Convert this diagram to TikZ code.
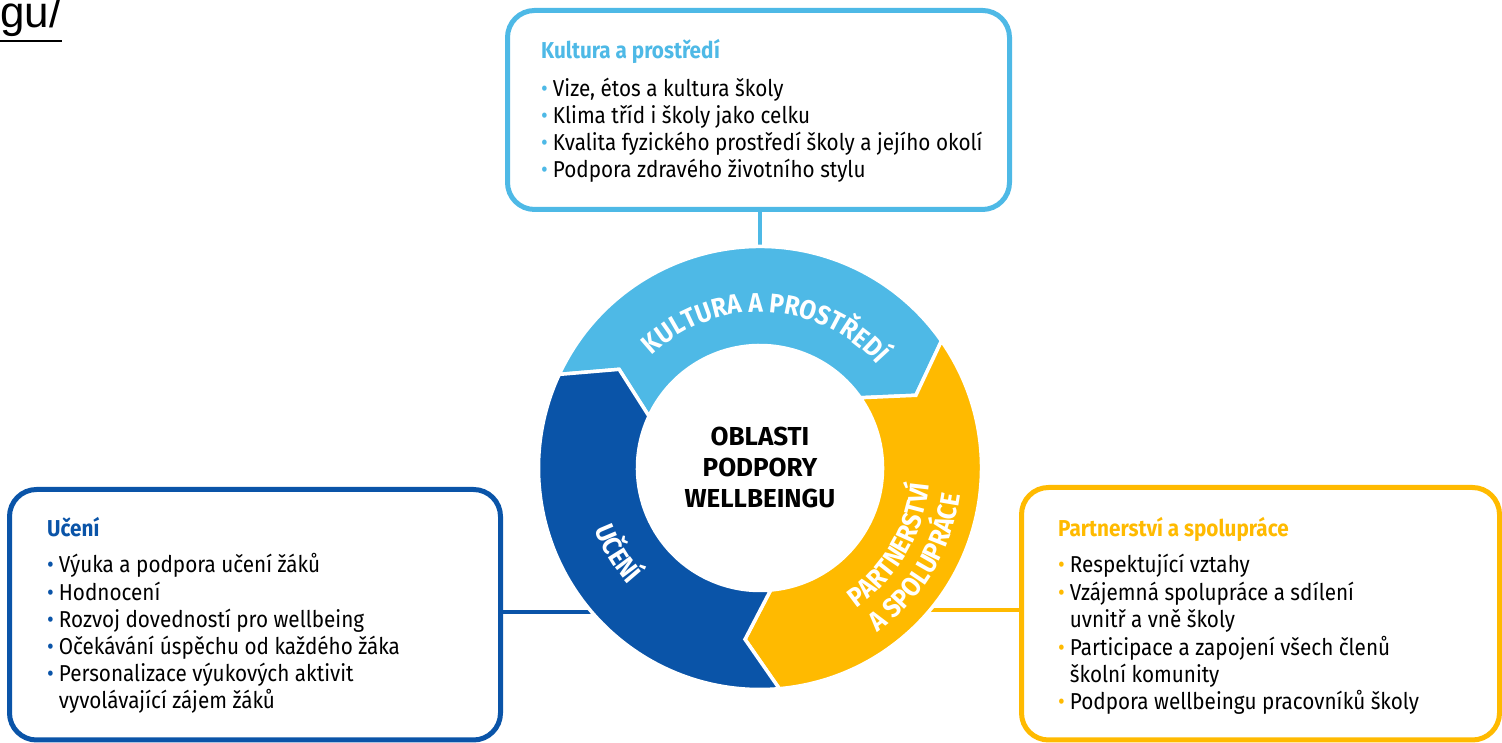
\documentclass[tikz,border=0pt]{standalone}
\usepackage{fontspec}
\usepackage{tikz}
\usetikzlibrary{decorations.text}
\setmainfont{Fira Sans}[FakeStretch=0.9]
\newfontfamily\widefont{Fira Sans}
\newfontfamily\linkfont{Liberation Sans}
\definecolor{kultura}{HTML}{4EB9E6}
\definecolor{uceni}{HTML}{0A54A8}
\definecolor{partner}{HTML}{FFBA00}
% coloured bullet, and the indent of a wrapped line
\newcommand{\bul}[1]{{\color{#1}\textbullet}\hspace{5pt}}
\newcommand{\nob}{\hphantom{\textbullet}\hspace{5pt}}
% one arrow of the ring: colour, angle of its tail
\newcommand{\ringpart}[2]{%
  \fill[#1, draw=white, line width=3.5] (#2:221.5)
    arc[start angle=#2, end angle={#2-120}, radius=221.5]
    -- ({#2-130}:172) -- ({#2-120}:122.5)
    arc[start angle={#2-120}, end angle=#2, radius=122.5]
    -- ({#2-10}:172) -- cycle;}

\begin{document}
\begin{tikzpicture}[x=1pt, y=1pt,
    areabox/.style={draw=#1, line width=5, rounded corners=27, inner sep=0},
    link/.style={draw=#1, line width=4},
    head/.style={text=#1, anchor=base west, inner sep=0,
        font=\fontsize{23}{23}\selectfont\bfseries},
    item/.style={anchor=base west, inner sep=0, font=\fontsize{23}{23}\selectfont},
    ringtext/.style={decorate, decoration={text along path, text align=center,
        text color=white, text={|\fontsize{27}{27}\selectfont\bfseries|#1}}}]
    \useasboundingbox (0,0) rectangle (1502,743);
    \coordinate (hub) at (760,275);
    \node[circle, minimum size=443, inner sep=0] (ring) at (hub) {};
    % tail of the web address above
    \node[font=\linkfont\fontsize{44}{44}\selectfont, anchor=base west, inner sep=0]
        (linktail) at (0,715) {gu/};
    \draw[line width=2.5] ([yshift=-13]linktail.base west) -- ([yshift=-13]linktail.base east);
    % the three boxes
    \node[areabox=kultura, minimum width=502, minimum height=199] (kulturabox) at (758.5,633) {};
    \node[areabox=uceni, minimum width=491, minimum height=250.5] (ucenibox) at (255,128.25) {};
    \node[areabox=partner, minimum width=478, minimum height=252.5] (partnerbox) at (1260.5,129.25) {};
    % links from the boxes to the ring
    \draw[link=kultura] (kulturabox.south -| hub) -- (ring.north);
    \draw[link=uceni] ([yshift=3]ucenibox.east) -- ([yshift=3]ucenibox.east -| hub);
    \draw[link=partner] ([yshift=3.5]partnerbox.west) -- ([yshift=3.5]partnerbox.west -| hub);
    % box texts
    \node[head=kultura] (kulturahead) at (541,684) {Kultura a prostředí};
    \foreach \txt [count=\i] in {{\bul{kultura}Vize, étos a kultura školy},
        {\bul{kultura}Klima tříd i školy jako celku},
        {\bul{kultura}Kvalita fyzického prostředí školy a jejího okolí},
        {\bul{kultura}Podpora zdravého životního stylu}}
        \node[item] (kultura-\i) at (541, {646-26.7*(\i-1)}) {\txt};
    \node[head=uceni] (ucenihead) at (47,206) {Učení};
    \foreach \txt [count=\i] in {{\bul{uceni}Výuka a podpora učení žáků},
        {\bul{uceni}Hodnocení},
        {\bul{uceni}Rozvoj dovedností pro wellbeing},
        {\bul{uceni}Očekávání úspěchu od každého žáka},
        {\bul{uceni}Personalizace výukových aktivit},
        {\nob vyvolávající zájem žáků}}
        \node[item] (uceni-\i) at (47, {170-27.2*(\i-1)}) {\txt};
    \node[head=partner] (partnerhead) at (1058,206) {Partnerství a spolupráce};
    \foreach \txt [count=\i] in {{\bul{partner}Respektující vztahy},
        {\bul{partner}Vzájemná spolupráce a sdílení},
        {\nob uvnitř a vně školy},
        {\bul{partner}Participace a zapojení všech členů},
        {\nob školní komunity},
        {\bul{partner}Podpora wellbeingu pracovníků školy}}
        \node[item] (partner-\i) at (1058, {170-27.4*(\i-1)}) {\txt};
    % the ring of three arrows
    \begin{scope}[shift={(hub)}]
        \ringpart{kultura}{155}
        \ringpart{partner}{35}
        \ringpart{uceni}{-85}
        \path[ringtext={KULTURA A PROSTŘEDÍ}] (150:156) arc[start angle=150, end angle=25, radius=156];
        \path[ringtext={UČENÍ}] (181:176) arc[start angle=181, end angle=241, radius=176];
        \path[ringtext={PARTNERSTVÍ}] (-81:170) arc[start angle=-81, end angle=20, radius=170];
        \path[ringtext={A SPOLUPRÁCE}] (-81:202) arc[start angle=-81, end angle=19, radius=202];
    \end{scope}
    % centre text
    \node[font=\widefont\fontsize{26}{31}\selectfont\bfseries, align=center] (oblasti) at (760,276)
        {OBLASTI\\PODPORY\\WELLBEINGU};
\end{tikzpicture}
\end{document}
